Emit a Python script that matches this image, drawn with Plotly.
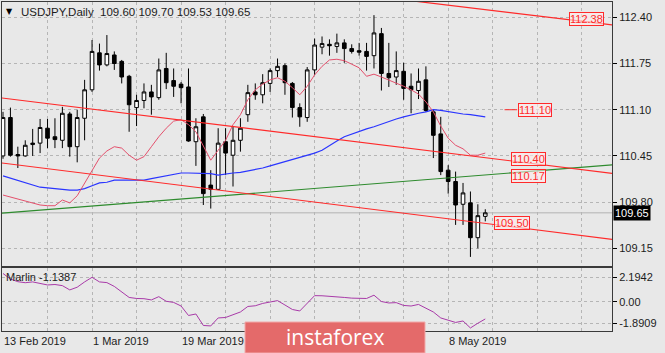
import pandas as pd
import plotly.graph_objects as go

# ---------------- data ----------------
dates = pd.bdate_range("2019-02-13", "2019-05-15")

opens = [110.45, 110.99, 110.47, 110.45, 110.61, 110.63, 110.84, 110.72, 110.67, 111.04,
         110.58, 110.98, 111.38, 111.90, 111.73, 111.87, 111.78, 111.57, 111.13, 111.23,
         111.35, 111.27, 111.68, 111.51, 111.46, 111.42, 110.65, 111.00, 110.04, 109.98,
         110.65, 110.46, 110.67, 111.03, 111.35, 111.31, 111.47, 111.65, 111.72, 111.47,
         111.13, 110.99, 111.66, 111.98, 112.02, 111.99, 112.04, 111.96, 111.93, 111.92,
         111.86, 112.17, 111.61, 111.56, 111.64, 111.43, 111.37, 111.52, 111.07, 110.76,
         110.25, 110.09, 109.77, 109.79, 109.30, 109.60]
highs = [111.07, 111.13, 110.58, 110.67, 110.83, 110.97, 110.97, 110.98, 111.14, 111.07,
         111.10, 111.52, 112.08, 112.03, 112.15, 111.92, 111.80, 111.59, 111.31, 111.47,
         111.45, 111.82, 111.90, 111.68, 111.49, 111.68, 110.98, 111.04, 110.25, 110.84,
         110.84, 110.86, 110.98, 111.45, 111.47, 111.60, 111.68, 111.82, 111.75, 111.49,
         111.19, 111.70, 112.10, 112.13, 112.09, 112.17, 112.09, 112.02, 112.04, 112.04,
         112.43, 112.25, 112.04, 111.92, 111.76, 111.61, 111.68, 111.71, 111.10, 111.00,
         110.32, 110.23, 110.07, 109.95, 109.77, 109.70]
lows = [110.41, 110.44, 110.28, 110.44, 110.45, 110.49, 110.56, 110.56, 110.56, 110.44,
        110.36, 110.67, 111.35, 111.65, 111.71, 111.66, 111.47, 110.79, 110.87, 111.12,
        111.03, 111.24, 111.39, 111.28, 111.19, 110.65, 110.31, 109.76, 109.71, 109.97,
        110.18, 110.02, 110.51, 110.93, 111.24, 111.19, 111.35, 111.56, 111.31, 110.99,
        110.86, 110.93, 111.59, 111.88, 111.86, 111.90, 111.76, 111.89, 111.86, 111.65,
        111.68, 111.37, 111.42, 111.45, 111.24, 111.05, 111.25, 111.07, 110.42, 110.18,
        109.92, 109.48, 109.48, 109.03, 109.15, 109.53]
closes = [110.99, 110.46, 110.45, 110.60, 110.63, 110.85, 110.70, 110.68, 111.05, 110.58,
          110.99, 111.38, 111.92, 111.73, 111.89, 111.75, 111.56, 111.17, 111.23, 111.35,
          111.28, 111.66, 111.48, 111.43, 111.41, 110.66, 110.86, 109.92, 109.98, 110.63,
          110.49, 110.67, 110.84, 111.34, 111.31, 111.48, 111.65, 111.71, 111.48, 111.13,
          111.00, 111.66, 112.01, 112.03, 112.00, 112.04, 111.96, 111.92, 111.91, 111.85,
          112.18, 111.61, 111.55, 111.65, 111.40, 111.38, 111.50, 111.09, 110.74, 110.23,
          110.09, 109.76, 109.93, 109.30, 109.61, 109.65]

fast_ma = [109.90, 109.87, 109.84, 109.82, 109.79, 109.76, 109.75, 109.75, 109.83, 109.79,
           109.89, 110.07, 110.25, 110.42, 110.52, 110.58, 110.56, 110.46, 110.39, 110.44,
           110.58, 110.72, 110.84, 110.94, 110.96, 110.89, 110.79, 110.60, 110.39, 110.53,
           110.67, 110.89, 111.03, 111.24, 111.38, 111.46, 111.52, 111.55, 111.50, 111.41,
           111.31, 111.43, 111.59, 111.71, 111.80, 111.81, 111.79, 111.74, 111.69, 111.57,
           111.60, 111.56, 111.52, 111.48, 111.43, 111.38, 111.32, 111.21, 111.07, 110.87,
           110.70, 110.60, 110.55, 110.46, 110.46, 110.49]
slow_ma = [110.17, 110.14, 110.10, 110.07, 110.04, 110.01, 110.00, 109.99, 109.97, 109.97,
           109.97, 109.99, 110.03, 110.07, 110.08, 110.11, 110.11, 110.11, 110.10, 110.11,
           110.13, 110.15, 110.17, 110.20, 110.21, 110.21, 110.21, 110.21, 110.20, 110.18,
           110.20, 110.21, 110.22, 110.24, 110.25, 110.28, 110.31, 110.34, 110.36, 110.39,
           110.42, 110.45, 110.49, 110.53, 110.60, 110.66, 110.72, 110.76, 110.80, 110.83,
           110.86, 110.90, 110.93, 110.97, 111.00, 111.03, 111.05, 111.07, 111.10, 111.09,
           111.07, 111.05, 111.04, 111.03, 111.01, 111.00]
marlin = [2.53, 2.04, 1.80, 1.71, 1.78, 1.64, 1.51, 1.55, 1.45, 1.07,
          1.31, 1.78, 2.19, 1.78, 1.72, 1.38, 0.89, 0.40, 0.31, 0.29,
          0.18, 0.47, 0.06, -0.04, -0.36, -1.20, -1.07, -2.09, -2.13, -1.42,
          -1.38, -1.15, -0.89, -0.40, -0.34, -0.13, 0.02, 0.12, -0.27, -0.67,
          -0.80, -0.09, 0.56, 0.55, 0.52, 0.45, 0.40, 0.34, 0.30, 0.31,
          0.60, 0.04, -0.09, -0.06, -0.31, -0.36, -0.22, -0.53, -0.89, -1.42,
          -1.60, -1.82, -1.69, -2.31, -1.89, -1.51]

# trend lines: (bar index, price) anchor pairs
top_line = [(57.55, 112.601), (82.08, 112.292)]
channel_upper = [(0, 111.263), (82, 110.206)]
channel_lower = [(0, 110.349), (82, 109.279)]
green_line = [(0, 109.646), (82, 110.323)]

level_labels = ["112.38", "111.10", "110.40", "110.17", "109.50"]
level_values = [112.38, 111.10, 110.40, 110.17, 109.50]
level_index = [78.6, 71.7, 70.8, 70.8, 68.6]

price_ticks = [109.15, 109.80, 110.45, 111.10, 111.75, 112.40]
ind_ticks = [2.1942, 0.0, -1.8909]
ind_ticklabels = ["2.1942", "0.00", "-1.8909"]
# date labels visible in the picture (others hidden under the watermark)
date_label_index = [0, 12, 24, 60]

title_text = "USDJPY,Daily  109.60 109.70 109.53 109.65"
last_price = 109.65

# ---------------- figure ----------------
n = len(dates)
idx = list(range(n))
FONT = "Liberation Sans"
TXT = "#1c1c1c"
BG = "#e8e8e8"
GRID = "#b5b5b5"
RED = "#ff2a2a"

W, H = 665, 353
ML, MR, MT, MB = 2, 53, 2, 22
PW, PH = W - ML - MR, H - MT - MB


def px(xp, yp):
    return (xp - ML) / PW, (H - MB - yp) / PH


fig = go.Figure()

fig.add_trace(go.Candlestick(
    x=idx, open=opens, high=highs, low=lows, close=closes,
    increasing=dict(line=dict(color="#000000", width=1), fillcolor="#ffffff"),
    decreasing=dict(line=dict(color="#000000", width=1), fillcolor="#000000"),
    whiskerwidth=0, hoverinfo="skip", xaxis="x", yaxis="y", showlegend=False))


def add_line(pts, color, width=1.2):
    (x0, y0), (x1, y1) = pts
    slope = (y1 - y0) / (x1 - x0)
    xa, xb = -5, 90
    fig.add_trace(go.Scatter(x=[xa, xb], y=[y0 + slope * (xa - x0), y0 + slope * (xb - x0)],
                             mode="lines", line=dict(color=color, width=width),
                             hoverinfo="skip", showlegend=False, xaxis="x", yaxis="y"))


fig.add_trace(go.Scatter(x=idx, y=slow_ma, mode="lines", line=dict(color="#2a35ff", width=1.2),
                         hoverinfo="skip", showlegend=False, xaxis="x", yaxis="y"))
fig.add_trace(go.Scatter(x=idx, y=fast_ma, mode="lines", line=dict(color="#e4506c", width=1),
                         hoverinfo="skip", showlegend=False, xaxis="x", yaxis="y"))
add_line(green_line, "#2e8b2e")
add_line(channel_upper, RED)
add_line(channel_lower, RED)
add_line(top_line, RED)

fig.add_trace(go.Scatter(x=idx, y=marlin, mode="lines", line=dict(color="#a83aa8", width=1),
                         hoverinfo="skip", showlegend=False, xaxis="x2", yaxis="y2"))

# bid line
fig.add_shape(type="line", xref="x domain", yref="y", x0=0, x1=1, y0=last_price, y1=last_price,
              line=dict(color="#c4c4c4", width=1.5), layer="below")

# short marker line before 111.10 label
fig.add_shape(type="line", xref="x", yref="y", x0=67.6, x1=69.3, y0=111.10, y1=111.10,
              line=dict(color=RED, width=1))

for t, v, i in zip(level_labels, level_values, level_index):
    fig.add_annotation(x=i, y=v, xref="x", yref="y", text=t, showarrow=False,
                       yanchor="middle",
                       font=dict(family=FONT, size=11, color=RED),
                       bgcolor="rgba(255,235,235,0.6)", bordercolor=RED, borderwidth=1, borderpad=0)

# current price box
fig.add_annotation(x=1.0, y=last_price, xref="paper", yref="y", xanchor="left", yanchor="middle",
                   text="109.65", showarrow=False, font=dict(family=FONT, size=11, color="#ffffff"),
                   bgcolor="#000000", borderpad=1, xshift=1)

# title
tx, ty = px(4, 12)
fig.add_annotation(x=tx, y=ty, xref="paper", yref="paper", xanchor="left", yanchor="middle",
                   text="▼", showarrow=False,
                   font=dict(family="DejaVu Sans", size=8, color="#000000"))
tx, ty = px(19, 12)
fig.add_annotation(x=tx, y=ty, xref="paper", yref="paper", xanchor="left", yanchor="middle",
                   text=title_text, showarrow=False,
                   font=dict(family=FONT, size=11.5, color=TXT))
tx, ty = px(4, 277)
fig.add_annotation(x=tx, y=ty, xref="paper", yref="paper", xanchor="left", yanchor="middle",
                   text="Marlin -1.1387", showarrow=False,
                   font=dict(family=FONT, size=11, color=TXT))

# date labels
for i in date_label_index:
    lx, ly = px(3 + 7.42 * i, 341)
    fig.add_annotation(x=i, y=ly, xref="x", yref="paper", xanchor="left", yanchor="middle",
                       xshift=-1,
                       text=f"{dates[i].day} {dates[i].strftime('%b %Y')}", showarrow=False,
                       font=dict(family=FONT, size=11, color=TXT))

# watermark
x0, y0 = px(245, 353)
x1, y1 = px(425, 322)
fig.add_shape(type="rect", xref="paper", yref="paper", x0=x0, x1=x1, y0=y0, y1=y1,
              fillcolor="#e46a6a", line=dict(color="#f2aaaa", width=1), layer="above")
cx, cy = px(335, 337)
fig.add_annotation(x=cx, y=cy, xref="paper", yref="paper", yanchor="middle",
                   text="instaforex", showarrow=False,
                   font=dict(family="Open Sans", size=21, color="#ffffff"))

grid_vals = list(range(0, 84, 6))
xcommon = dict(range=[-0.135, 82.08], tickvals=grid_vals, showticklabels=False,
               showgrid=True, gridcolor=GRID, griddash="3px,3px", gridwidth=1,
               zeroline=False, showline=True, mirror=True, linecolor="#3a3a3a", linewidth=1,
               ticks="", fixedrange=True)
main_bottom = (H - MB - 266) / PH
ind_top = (H - MB - 268.3) / PH

fig.update_layout(
    width=W, height=H, margin=dict(l=ML, r=MR, t=MT, b=MB),
    paper_bgcolor=BG, plot_bgcolor=BG,
    xaxis=dict(domain=[0, 1], anchor="y", rangeslider=dict(visible=False), **xcommon),
    xaxis2=dict(domain=[0, 1], anchor="y2", matches="x", **xcommon),
    yaxis=dict(domain=[main_bottom, 1], anchor="x", side="right", range=[108.902, 112.615],
               tickvals=price_ticks, ticktext=[f"{v:.2f}" for v in price_ticks],
               ticks="outside", ticklen=4, tickcolor="#000000",
               tickfont=dict(family=FONT, size=11, color=TXT),
               showgrid=True, gridcolor=GRID, griddash="3px,3px", zeroline=False,
               showline=True, mirror=True, linecolor="#3a3a3a", linewidth=1),
    yaxis2=dict(domain=[0, ind_top], anchor="x2", side="right", range=[-2.58, 2.99],
                tickvals=ind_ticks, ticktext=ind_ticklabels,
                ticks="outside", ticklen=4, tickcolor="#000000",
                tickfont=dict(family=FONT, size=11, color=TXT),
                showgrid=True, gridcolor=GRID, griddash="3px,3px", zeroline=False,
                showline=True, mirror=True, linecolor="#3a3a3a", linewidth=1),
    showlegend=False,
)

fig.write_html("out.html")
